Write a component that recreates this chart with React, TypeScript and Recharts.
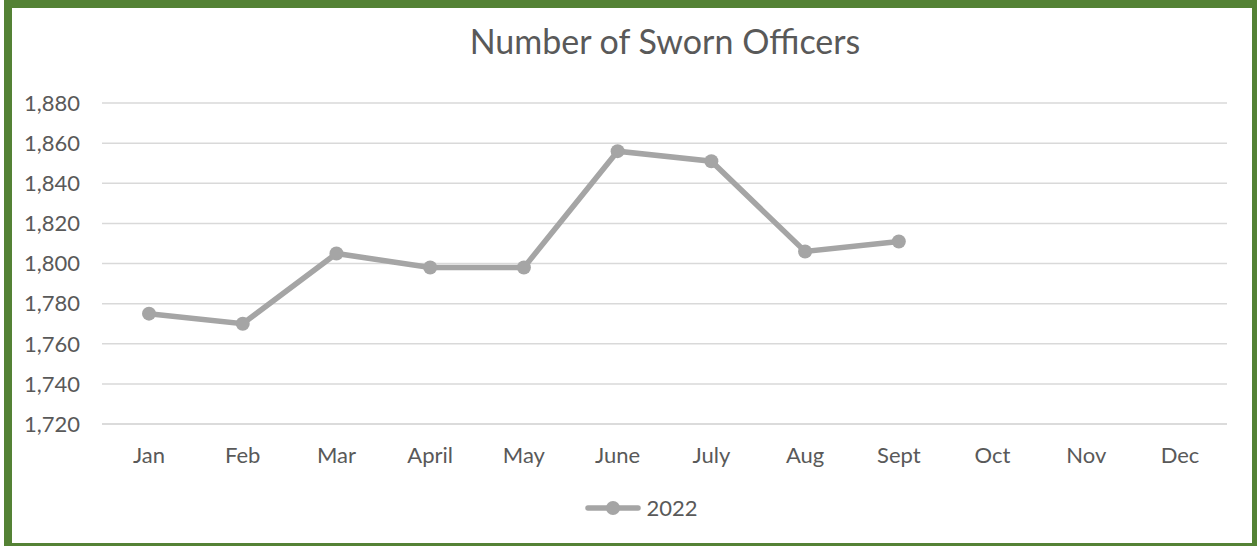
import React from "react";
import { LineChart, Line, XAxis, YAxis, CartesianGrid, Legend } from "recharts";

const months = ["Jan", "Feb", "Mar", "April", "May", "June", "July", "Aug", "Sept", "Oct", "Nov", "Dec"];
const officers2022: (number | null)[] = [1775, 1770, 1805, 1798, 1798, 1856, 1851, 1806, 1811, null, null, null];
const yTicks = [1720, 1740, 1760, 1780, 1800, 1820, 1840, 1860, 1880];

const data = months.map((m, i) => ({ month: m, y2022: officers2022[i] }));

const FONT = "Lato, 'Open Sans', sans-serif";
const LINE = "#A5A5A5";
const TEXT = "#595959";

function LegendContent() {
    return (
        <div style={{ display: "flex", alignItems: "center", justifyContent: "center", fontFamily: FONT, fontSize: 22, color: TEXT }}>
            <svg width={56} height={16} style={{ marginRight: 5 }}>
                <line x1={3} y1={8} x2={53} y2={8} stroke={LINE} strokeWidth={5.5} strokeLinecap="round" />
                <circle cx={28} cy={8} r={7} fill={LINE} />
            </svg>
            <span>2022</span>
        </div>
    );
}

export default function App() {
    return (
        <div style={{ position: "absolute", left: 0, top: 0, width: 1257, height: 546, background: "#fff" }}>
            <div
                style={{
                    position: "absolute",
                    left: 4,
                    top: 0,
                    width: 1253,
                    height: 546,
                    boxSizing: "border-box",
                    borderStyle: "solid",
                    borderColor: "#548235",
                    borderWidth: "8px 5px 3px 8px",
                }}
            />
            <div
                style={{
                    position: "absolute",
                    left: 0,
                    top: 20,
                    width: 1330,
                    textAlign: "center",
                    fontFamily: FONT,
                    fontSize: 34,
                    color: TEXT,
                }}
            >
                Number of Sworn Officers
            </div>
            <div style={{ position: "absolute", left: 0, top: 0 }}>
                <LineChart width={1257} height={546} data={data} margin={{ top: 103, right: 30, left: 0, bottom: 0 }}>
                    <CartesianGrid vertical={false} stroke="#D9D9D9" strokeWidth={1.5} />
                    <XAxis
                        dataKey="month"
                        height={122}
                        padding={{ left: 47, right: 47 }}
                        tickLine={false}
                        tickSize={0}
                        tickMargin={23}
                        axisLine={{ stroke: "#D9D9D9", strokeWidth: 1.5 }}
                        tick={{ fill: TEXT, fontSize: 22, fontFamily: FONT }}
                    />
                    <YAxis
                        width={102}
                        domain={[1720, 1880]}
                        ticks={yTicks}
                        axisLine={false}
                        tickLine={false}
                        tickSize={0}
                        tickMargin={22}
                        tickFormatter={(v: number) => v.toLocaleString("en-US")}
                        tick={{ fill: TEXT, fontSize: 22, fontFamily: FONT }}
                    />
                    <Legend
                        layout="horizontal"
                        verticalAlign="middle"
                        align="center"
                        content={<LegendContent />}
                        wrapperStyle={{ top: 494, left: 13, width: 1257 }}
                    />
                    <Line
                        type="linear"
                        dataKey="y2022"
                        name="2022"
                        stroke={LINE}
                        strokeWidth={5.5}
                        dot={{ r: 7, fill: LINE, stroke: "none" }}
                        activeDot={false}
                        isAnimationActive={false}
                    />
                </LineChart>
            </div>
        </div>
    );
}
